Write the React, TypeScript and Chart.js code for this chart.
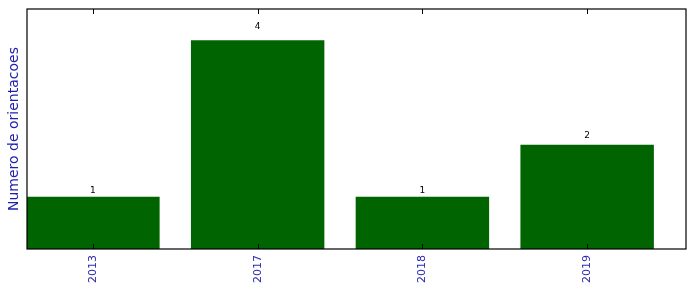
import React, { useEffect, useRef } from "react";
import { Chart, registerables } from "chart.js";

Chart.register(...registerables);

const categories = ["2013", "2017", "2018", "2019"];
const values = [1, 4, 1, 2];
const yTitle = "Numero de orientacoes";

const FONT = "'DejaVu Sans', sans-serif";

const boxPlugin = {
  id: "boxPlugin",
  afterDraw(chart: any) {
    const { ctx, chartArea } = chart;
    const xs = chart.scales.x;
    const ys = chart.scales.y;
    ctx.save();
    // value labels
    ctx.fillStyle = "#000";
    ctx.font = `9px ${FONT}`;
    ctx.textAlign = "center";
    ctx.textBaseline = "bottom";
    values.forEach((v, i) => {
      const x = xs.getPixelForValue(i);
      const y = ys.getPixelForValue(v * 1.05);
      ctx.fillText(String(v), x, y + 1);
    });
    // inner ticks
    ctx.strokeStyle = "#000";
    ctx.lineWidth = 1;
    categories.forEach((_, i) => {
      const x = Math.round(xs.getPixelForValue(i)) + 0.5;
      ctx.beginPath();
      ctx.moveTo(x, chartArea.top);
      ctx.lineTo(x, chartArea.top + 5);
      ctx.moveTo(x, chartArea.bottom);
      ctx.lineTo(x, chartArea.bottom - 5);
      ctx.stroke();
    });
    // frame
    ctx.strokeStyle = "#000";
    ctx.lineWidth = 1.2;
    ctx.strokeRect(
      chartArea.left,
      chartArea.top,
      chartArea.right - chartArea.left,
      chartArea.bottom - chartArea.top
    );
    ctx.restore();
  },
};

export default function App() {
  const ref = useRef<HTMLCanvasElement | null>(null);
  useEffect(() => {
    document.body.style.margin = "0";
    const canvas = ref.current;
    if (!canvas) return;
    const chart = new Chart(canvas, {
      type: "bar",
      data: {
        datasets: [
          {
            data: values.map((v, i) => ({ x: i, y: v })),
            backgroundColor: "#006400",
            borderWidth: 0,
            barPercentage: 0.81,
            categoryPercentage: 1,
          },
        ],
      },
      options: {
        responsive: false,
        animation: false,
        devicePixelRatio: 1,
        layout: { padding: { top: 9, right: 10, left: 0, bottom: 0 } },
        plugins: {
          legend: { display: false },
          tooltip: { enabled: false },
        },
        scales: {
          x: {
            type: "linear",
            min: -0.4,
            max: 3.6,
            offset: false,
            grid: { display: false },
            border: { display: false },
            afterBuildTicks: (scale: any) => {
              scale.ticks = categories.map((_, i) => ({ value: i }));
            },
            afterFit: (scale: any) => {
              scale.height = 43;
            },
            ticks: {
              autoSkip: false,
              minRotation: 90,
              maxRotation: 90,
              padding: -2,
              color: "#2a2ab0",
              font: { family: FONT, size: 11 },
              callback: (v: any) => categories[Math.round(Number(v))] ?? "",
            },
          },
          y: {
            min: 0,
            max: 4.6,
            grid: { display: false },
            border: { display: false },
            ticks: { display: false },
            afterFit: (scale: any) => {
              scale.width = 27;
            },
            title: {
              display: true,
              text: yTitle,
              color: "#2020b0",
              font: { family: FONT, size: 14 },
              padding: { top: 6, bottom: 0 },
            },
          },
        },
      },
      plugins: [boxPlugin],
    });
    return () => chart.destroy();
  }, []);
  return (
    <div style={{ width: 696, height: 292 }}>
      <canvas ref={ref} width={696} height={292} style={{ display: "block" }} />
    </div>
  );
}
